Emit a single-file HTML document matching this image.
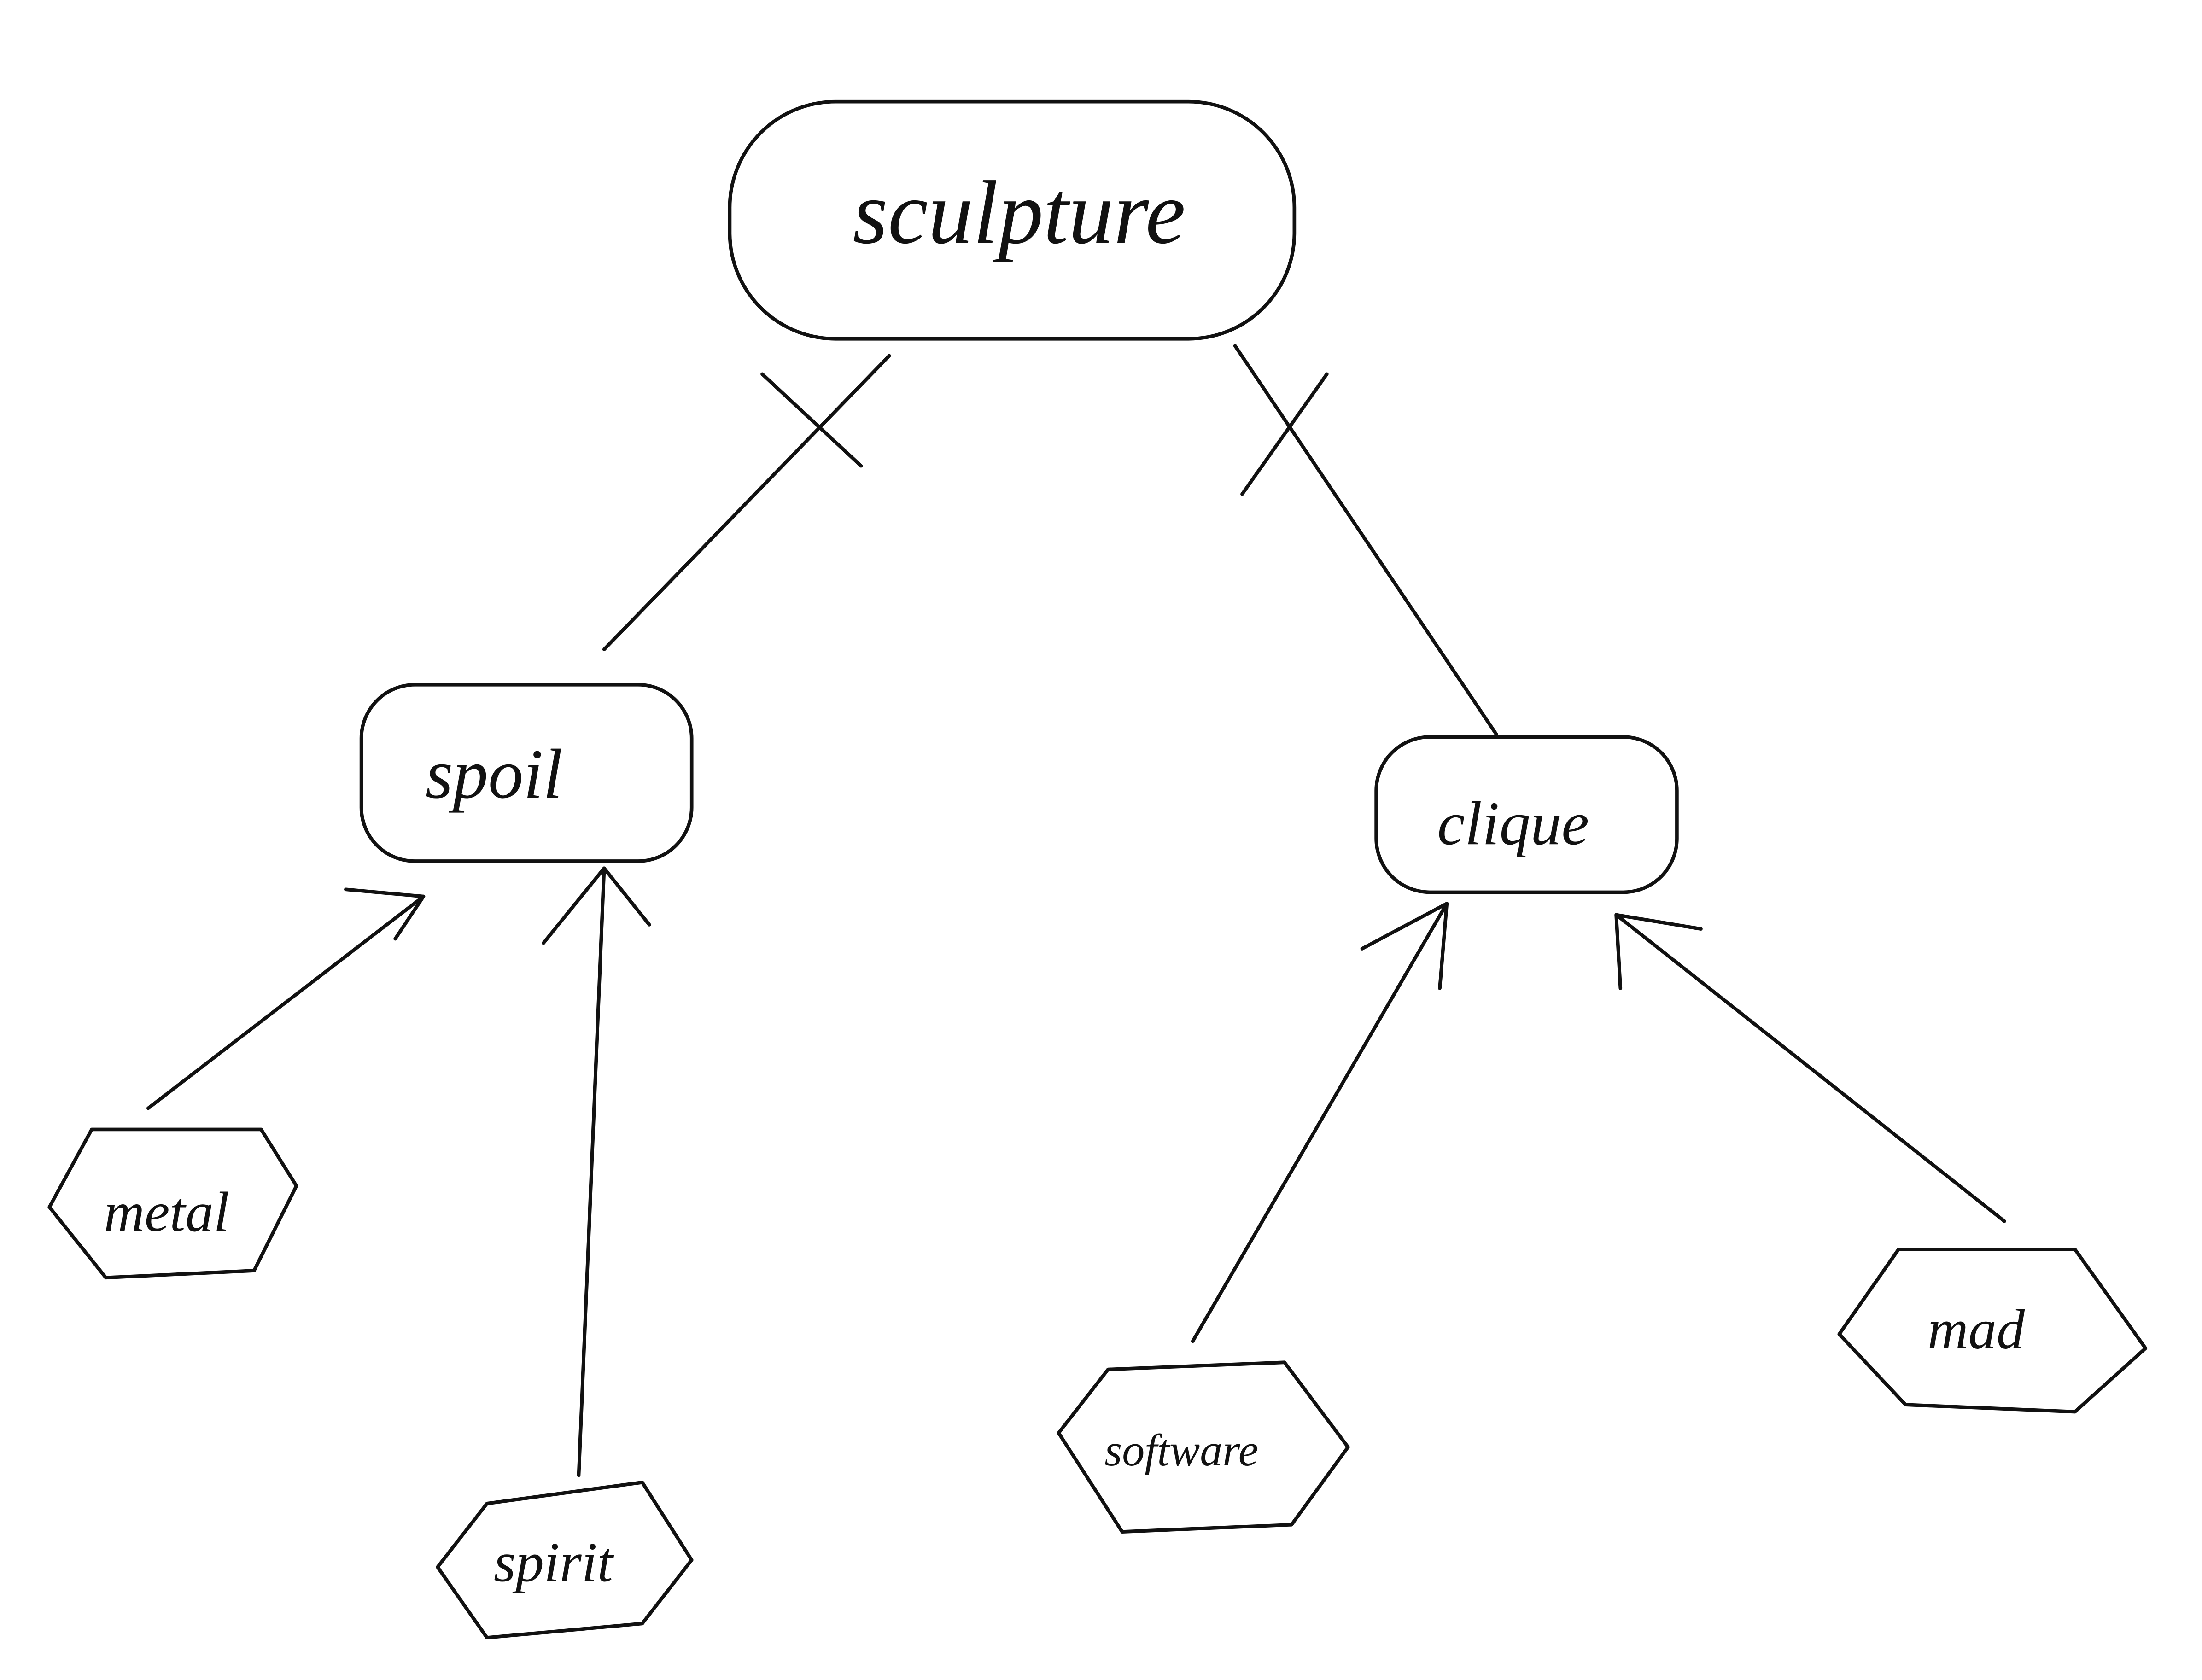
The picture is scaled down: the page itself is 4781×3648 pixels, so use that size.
<!DOCTYPE html>
<html><head><meta charset="utf-8"><style>
html,body{margin:0;padding:0;background:#fff;}
svg{display:block;}
text{font-family:"Liberation Serif",serif;font-style:italic;fill:#111;}
</style></head><body>
<svg width="4781" height="3648" viewBox="0 0 1560 1190" preserveAspectRatio="none" xmlns="http://www.w3.org/2000/svg">
<g fill="none" stroke="#111" stroke-width="2.5" stroke-linecap="round" stroke-linejoin="round">
<rect x="517" y="72" width="400" height="168" rx="75"/>
<rect x="256" y="485" width="234" height="125" rx="38"/>
<rect x="975" y="522" width="213" height="110" rx="38"/>
<path d="M630 252 L428 460"/>
<path d="M540 265 L610 330"/>
<path d="M875 245 L1060 520"/>
<path d="M880 350 L940 265"/>
<polygon points="35,855 65,800 185,800 210,840 180,900 75,905"/>
<polygon points="310,1110 345,1065 455,1050 490,1105 455,1150 345,1160"/>
<polygon points="750,1015 785,970 910,965 955,1025 915,1080 795,1085"/>
<polygon points="1303,945 1345,885 1470,885 1520,955 1470,1000 1350,995"/>
<path d="M105 785 L300 635"/>
<path d="M245 630 L300 635 L280 665"/>
<path d="M410 1045 L428 615"/>
<path d="M385 668 L428 615 L460 655"/>
<path d="M845 950 L1025 640"/>
<path d="M965 672 L1025 640 L1020 700"/>
<path d="M1420 865 L1145 648"/>
<path d="M1205 658 L1145 648 L1148 700"/>
</g>
<text x="722" y="172" font-size="64" text-anchor="middle">sculpture</text>
<text x="350" y="565" font-size="50" text-anchor="middle">spoil</text>
<text x="1072" y="598" font-size="44" text-anchor="middle">clique</text>
<text x="118" y="872" font-size="40" text-anchor="middle">metal</text>
<text x="392" y="1120" font-size="40" text-anchor="middle">spirit</text>
<text x="837" y="1038" font-size="32" text-anchor="middle">software</text>
<text x="1400" y="955" font-size="40" text-anchor="middle">mad</text>
</svg>
</body></html>
